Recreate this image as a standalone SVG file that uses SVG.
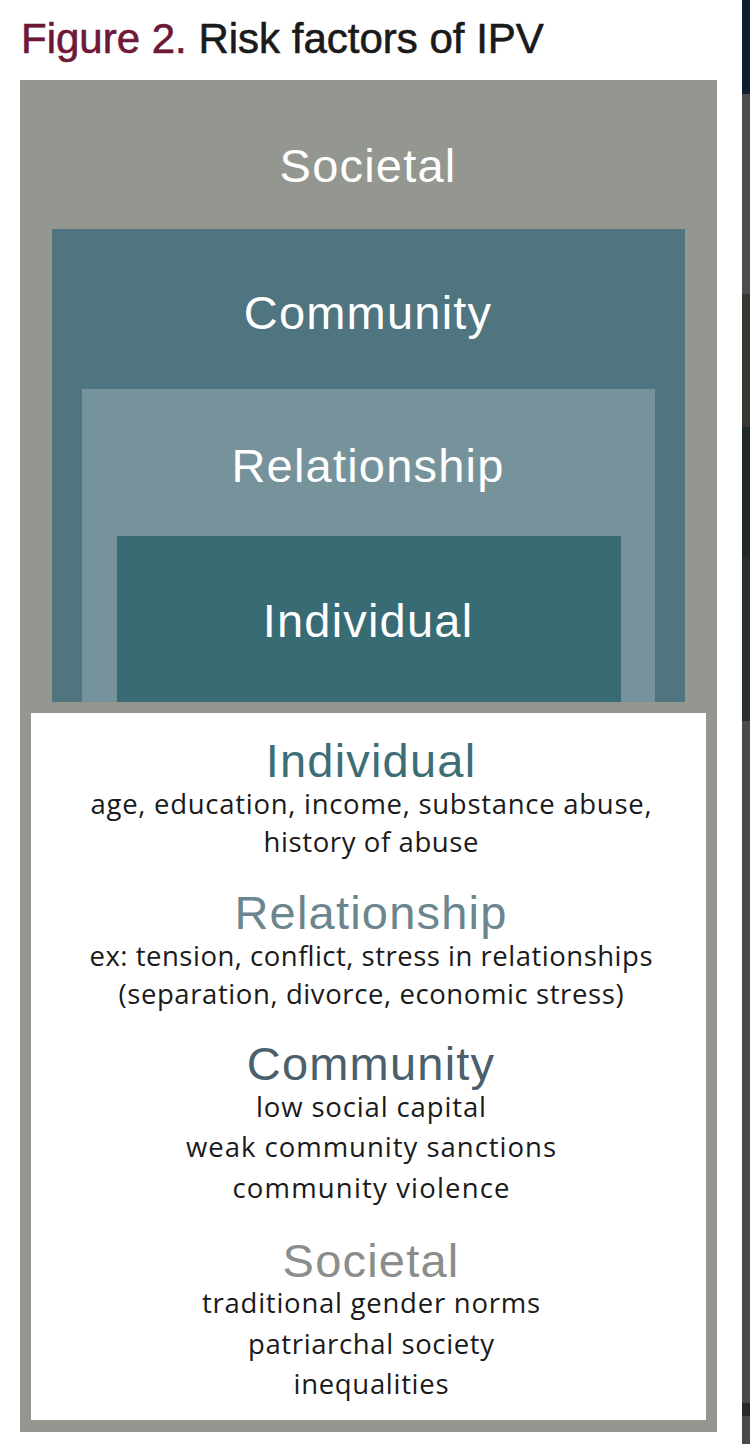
<svg xmlns="http://www.w3.org/2000/svg" width="750" height="1444" viewBox="0 0 750 1444">
<style>
.hd{font-family:"Liberation Sans",Arial,sans-serif;font-size:47px;text-anchor:middle;letter-spacing:1.2px}
.wh{fill:#ffffff}
.bd{font-family:"Open Sans","Noto Sans",sans-serif;font-size:27.5px;fill:#1a1a1a;text-anchor:middle}
</style>
<rect x="0" y="0" width="750" height="1444" fill="#ffffff"/>
<g id="edge-strip">
<rect x="742" y="0" width="8" height="94" fill="#0f1d30"/>
<rect x="742" y="94" width="8" height="200" fill="#4d4d4d"/>
<rect x="742" y="294" width="8" height="133" fill="#3a3733"/>
<rect x="742" y="427" width="8" height="130" fill="#1f2929"/>
<rect x="742" y="557" width="8" height="164" fill="#283030"/>
<rect x="742" y="721" width="8" height="682" fill="#4a4a4a"/>
<rect x="742" y="1403" width="8" height="13" fill="#2a2a2a"/>
<rect x="742" y="1416" width="8" height="28" fill="#4a4a4a"/>
</g>
<g id="title">
<text x="21" y="53" font-family="'Liberation Sans',Arial,sans-serif" font-size="42" stroke-width="0.6"><tspan fill="#6e1838" stroke="#6e1838">Figure 2.</tspan><tspan fill="#1a1a1a" stroke="#1a1a1a"> Risk factors of IPV</tspan></text>
</g>
<g id="societal">
<rect x="20" y="80" width="697" height="1352" fill="#939790"/>
<text class="hd wh" x="368" y="182">Societal</text>
</g>
<g id="community">
<rect x="52" y="229" width="633" height="473" fill="#4e7580"/>
<text class="hd wh" x="368" y="329">Community</text>
</g>
<g id="relationship">
<rect x="82" y="389" width="573" height="313" fill="#76939c"/>
<text class="hd wh" x="368" y="482">Relationship</text>
</g>
<g id="individual">
<rect x="117" y="536" width="504" height="166" fill="#386b74"/>
<text class="hd wh" x="368" y="637">Individual</text>
</g>
<g id="legend-panel">
<rect x="31" y="713" width="675" height="707" fill="#ffffff"/>
<text class="hd" x="371" y="777" fill="#3d6e76">Individual</text>
<text class="bd" x="371" y="814" textLength="561" lengthAdjust="spacing">age, education, income, substance abuse,</text>
<text class="bd" x="371" y="852" textLength="215" lengthAdjust="spacing">history of abuse</text>
<text class="hd" x="371" y="929" fill="#6c868f">Relationship</text>
<text class="bd" x="371" y="966" textLength="563" lengthAdjust="spacing">ex: tension, conflict, stress in relationships</text>
<text class="bd" x="371" y="1004" textLength="505" lengthAdjust="spacing">(separation, divorce, economic stress)</text>
<text class="hd" x="371" y="1080" fill="#4b5f6c">Community</text>
<text class="bd" x="371" y="1117" textLength="230" lengthAdjust="spacing">low social capital</text>
<text class="bd" x="371" y="1157" textLength="370" lengthAdjust="spacing">weak community sanctions</text>
<text class="bd" x="371" y="1198" textLength="277" lengthAdjust="spacing">community violence</text>
<text class="hd" x="371" y="1277" fill="#8a8d8a">Societal</text>
<text class="bd" x="371" y="1313" textLength="338" lengthAdjust="spacing">traditional gender norms</text>
<text class="bd" x="371" y="1354" textLength="246" lengthAdjust="spacing">patriarchal society</text>
<text class="bd" x="371" y="1394" textLength="155" lengthAdjust="spacing">inequalities</text>
</g>
<g id="connectors"></g>
</svg>
